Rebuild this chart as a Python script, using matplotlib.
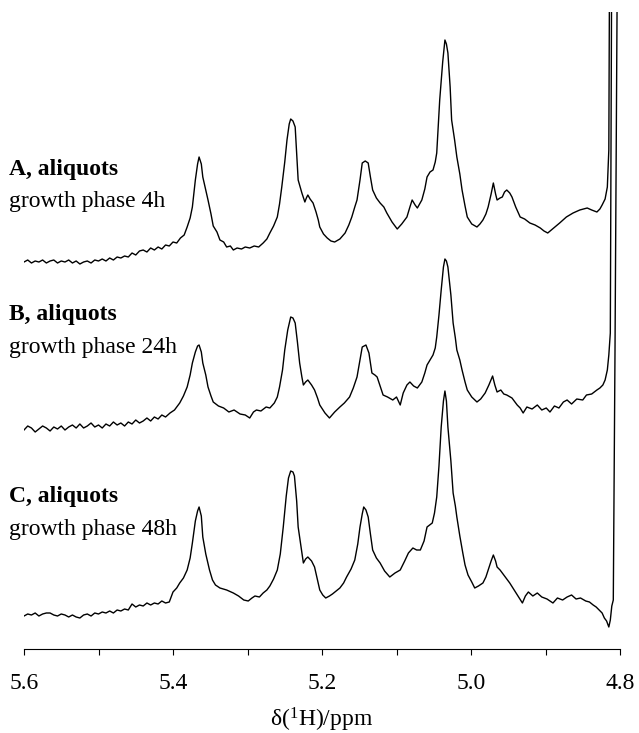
import matplotlib
matplotlib.use("Agg")
import matplotlib.pyplot as plt

plt.rcParams['font.family'] = ['Liberation Serif', 'DejaVu Serif']
plt.rcParams['mathtext.fontset'] = 'custom'
plt.rcParams['mathtext.rm'] = 'Liberation Serif'
plt.rcParams['mathtext.default'] = 'regular'

# (ppm, intensity), intensity relative to each baseline
spec_a = [
    (5.600, 0), (5.595, 2), (5.590, -1), (5.585, 1), (5.580, 0), (5.575, 2), (5.570, -1), (5.565, 1),
    (5.560, 2), (5.555, -1), (5.550, 1), (5.545, 0), (5.540, 2), (5.535, -1), (5.530, 1), (5.525, -2),
    (5.520, 0), (5.515, 1), (5.510, -1), (5.505, 2), (5.500, 1), (5.495, 3), (5.490, 1), (5.485, 4),
    (5.480, 2), (5.475, 5), (5.470, 4), (5.465, 6), (5.460, 5), (5.455, 9), (5.450, 7), (5.445, 11),
    (5.440, 12), (5.435, 10), (5.430, 14), (5.425, 12), (5.420, 15), (5.415, 13), (5.410, 17), (5.405, 16),
    (5.400, 20), (5.395, 19), (5.390, 24), (5.385, 27), (5.381, 35), (5.377, 44), (5.374, 55), (5.370, 82),
    (5.367, 98), (5.365, 105), (5.362, 98), (5.360, 85), (5.356, 72), (5.353, 62), (5.349, 48), (5.346, 36),
    (5.341, 30), (5.337, 22), (5.332, 20), (5.328, 15), (5.323, 16), (5.319, 12), (5.314, 14), (5.308, 13),
    (5.303, 15), (5.297, 14), (5.291, 16), (5.285, 15), (5.279, 19), (5.274, 23), (5.270, 29), (5.265, 36),
    (5.260, 45), (5.257, 58), (5.254, 75), (5.250, 100), (5.247, 122), (5.244, 138), (5.242, 143), (5.239, 141),
    (5.236, 135), (5.232, 82), (5.229, 74), (5.227, 69), (5.223, 60), (5.221, 64), (5.219, 67), (5.216, 63),
    (5.212, 59), (5.208, 50), (5.205, 42), (5.203, 35), (5.198, 28), (5.193, 24), (5.188, 21), (5.183, 20),
    (5.176, 23), (5.169, 29), (5.164, 37), (5.160, 45), (5.156, 55), (5.153, 62), (5.149, 82), (5.146, 99),
    (5.142, 101), (5.138, 99), (5.135, 85), (5.132, 72), (5.127, 64), (5.122, 59), (5.117, 55), (5.113, 49),
    (5.106, 40), (5.099, 33), (5.093, 38), (5.086, 45), (5.082, 55), (5.079, 62), (5.075, 57), (5.072, 54),
    (5.069, 58), (5.066, 62), (5.062, 73), (5.059, 85), (5.055, 90), (5.051, 92), (5.048, 100), (5.046, 109),
    (5.044, 135), (5.042, 162), (5.038, 200), (5.035, 222), (5.033, 218), (5.031, 209), (5.028, 175), (5.026, 142),
    (5.022, 122), (5.019, 105), (5.015, 88), (5.012, 72), (5.008, 56), (5.005, 45), (4.999, 38), (4.992, 35),
    (4.988, 38), (4.984, 42), (4.980, 48), (4.977, 55), (4.973, 68), (4.970, 79), (4.967, 68), (4.965, 62),
    (4.961, 64), (4.958, 65), (4.955, 70), (4.952, 72), (4.948, 69), (4.945, 65), (4.940, 55), (4.934, 45),
    (4.928, 43), (4.921, 39), (4.914, 37), (4.907, 34), (4.902, 31), (4.897, 29), (4.889, 34), (4.881, 39),
    (4.872, 45), (4.863, 49), (4.854, 52), (4.844, 54), (4.838, 52), (4.831, 50), (4.827, 53), (4.824, 57),
    (4.820, 63), (4.817, 75), (4.815, 112), (4.812, 700),
]

spec_b = [
    (5.600, 0), (5.595, 4), (5.590, 2), (5.585, -2), (5.580, 1), (5.575, 4), (5.570, 2), (5.565, -1),
    (5.560, 3), (5.555, 1), (5.550, 4), (5.545, 0), (5.540, 3), (5.535, 5), (5.530, 2), (5.525, 6),
    (5.520, 2), (5.515, 4), (5.510, 7), (5.505, 3), (5.500, 5), (5.495, 2), (5.490, 6), (5.485, 4),
    (5.480, 8), (5.475, 5), (5.470, 7), (5.465, 4), (5.460, 8), (5.455, 6), (5.450, 10), (5.445, 7),
    (5.440, 9), (5.435, 12), (5.430, 9), (5.425, 13), (5.420, 11), (5.415, 15), (5.410, 13), (5.404, 17),
    (5.398, 20), (5.391, 27), (5.386, 34), (5.381, 43), (5.377, 55), (5.374, 67), (5.370, 78), (5.367, 84),
    (5.365, 85), (5.362, 78), (5.360, 67), (5.356, 55), (5.353, 43), (5.349, 34), (5.346, 28), (5.339, 24),
    (5.332, 22), (5.325, 18), (5.318, 20), (5.310, 16), (5.303, 15), (5.297, 12), (5.292, 18), (5.288, 20),
    (5.282, 19), (5.275, 23), (5.270, 22), (5.264, 27), (5.260, 33), (5.257, 43), (5.253, 60), (5.250, 80),
    (5.246, 100), (5.242, 113), (5.239, 112), (5.236, 107), (5.233, 88), (5.230, 67), (5.227, 53), (5.225, 45),
    (5.222, 48), (5.219, 50), (5.214, 45), (5.210, 40), (5.206, 32), (5.203, 25), (5.196, 17), (5.190, 12),
    (5.183, 18), (5.176, 23), (5.170, 27), (5.163, 33), (5.158, 42), (5.153, 53), (5.149, 70), (5.146, 83),
    (5.141, 85), (5.137, 77), (5.133, 57), (5.129, 55), (5.126, 53), (5.122, 44), (5.118, 35), (5.112, 33),
    (5.105, 30), (5.100, 33), (5.095, 25), (5.091, 37), (5.086, 45), (5.082, 48), (5.077, 44), (5.072, 42),
    (5.069, 45), (5.066, 48), (5.062, 57), (5.059, 65), (5.055, 70), (5.051, 75), (5.048, 82), (5.046, 93),
    (5.043, 115), (5.040, 140), (5.037, 163), (5.035, 171), (5.033, 169), (5.031, 163), (5.027, 135), (5.024, 107),
    (5.021, 92), (5.019, 80), (5.015, 70), (5.012, 60), (5.008, 48), (5.005, 40), (4.999, 33), (4.992, 28),
    (4.987, 31), (4.981, 37), (4.976, 45), (4.971, 54), (4.968, 45), (4.965, 38), (4.960, 40), (4.956, 36),
    (4.952, 35), (4.945, 32), (4.938, 25), (4.934, 22), (4.930, 17), (4.925, 23), (4.918, 21), (4.911, 25),
    (4.905, 20), (4.899, 22), (4.894, 18), (4.888, 24), (4.882, 22), (4.876, 28), (4.871, 30), (4.865, 26),
    (4.858, 31), (4.850, 30), (4.845, 35), (4.838, 36), (4.831, 40), (4.827, 42), (4.823, 45), (4.820, 50),
    (4.817, 60), (4.815, 75), (4.813, 97), (4.810, 700),
]

spec_c = [
    (5.600, 0), (5.595, 2), (5.590, 1), (5.585, 3), (5.580, 0), (5.575, 2), (5.570, 3), (5.565, 3),
    (5.560, 1), (5.555, 0), (5.550, 2), (5.545, 1), (5.540, -1), (5.535, 1), (5.530, -1), (5.525, -2),
    (5.520, 1), (5.515, 2), (5.510, 0), (5.505, 3), (5.500, 2), (5.495, 4), (5.490, 3), (5.485, 5),
    (5.480, 3), (5.475, 6), (5.470, 5), (5.465, 7), (5.460, 6), (5.455, 12), (5.450, 9), (5.445, 11),
    (5.440, 10), (5.435, 13), (5.430, 11), (5.425, 13), (5.420, 12), (5.415, 15), (5.410, 13), (5.405, 14),
    (5.400, 24), (5.395, 28), (5.391, 33), (5.386, 38), (5.381, 46), (5.377, 58), (5.374, 73), (5.370, 95),
    (5.367, 105), (5.365, 109), (5.362, 100), (5.360, 79), (5.356, 62), (5.351, 46), (5.347, 36), (5.343, 31),
    (5.337, 28), (5.328, 26), (5.319, 23), (5.312, 20), (5.305, 16), (5.299, 15), (5.294, 18), (5.290, 20),
    (5.284, 19), (5.279, 23), (5.274, 26), (5.270, 30), (5.265, 37), (5.260, 46), (5.256, 62), (5.252, 89),
    (5.248, 120), (5.245, 138), (5.242, 145), (5.239, 144), (5.237, 140), (5.234, 115), (5.232, 89), (5.228, 68),
    (5.225, 53), (5.222, 57), (5.219, 59), (5.214, 55), (5.210, 49), (5.206, 36), (5.203, 26), (5.199, 21),
    (5.195, 18), (5.190, 20), (5.186, 22), (5.181, 25), (5.176, 28), (5.171, 33), (5.167, 39), (5.161, 47),
    (5.156, 56), (5.152, 72), (5.149, 89), (5.146, 102), (5.144, 109), (5.141, 106), (5.138, 99), (5.135, 82),
    (5.132, 66), (5.127, 58), (5.122, 53), (5.116, 45), (5.109, 39), (5.102, 43), (5.095, 46), (5.089, 55),
    (5.084, 63), (5.078, 68), (5.073, 66), (5.068, 66), (5.063, 75), (5.059, 89), (5.052, 93), (5.049, 103),
    (5.046, 119), (5.043, 150), (5.040, 189), (5.037, 215), (5.035, 225), (5.033, 215), (5.031, 189), (5.027, 155),
    (5.024, 123), (5.021, 110), (5.019, 99), (5.015, 80), (5.011, 63), (5.008, 51), (5.004, 41), (4.999, 34),
    (4.995, 28), (4.990, 30), (4.984, 33), (4.980, 39), (4.977, 46), (4.973, 55), (4.970, 61), (4.967, 55),
    (4.965, 49), (4.961, 46), (4.958, 43), (4.953, 38), (4.948, 33), (4.942, 26), (4.936, 19), (4.931, 13),
    (4.927, 20), (4.923, 24), (4.917, 20), (4.911, 23), (4.905, 19), (4.898, 17), (4.890, 13), (4.884, 18),
    (4.877, 16), (4.871, 19), (4.865, 21), (4.859, 17), (4.853, 18), (4.846, 15), (4.841, 14), (4.836, 11),
    (4.832, 9), (4.828, 6), (4.824, 3), (4.821, -2), (4.818, -5), (4.815, -11), (4.813, -4), (4.811, 10),
    (4.809, 16), (4.8067, 266), (4.804, 606), (4.8035, 650),
]

titles = ['A, aliquots', 'B, aliquots', 'C, aliquots']
subtitles = ['growth phase 4h', 'growth phase 24h', 'growth phase 48h']
tick_vals = [5.6, 5.5, 5.4, 5.3, 5.2, 5.1, 5.0, 4.9, 4.8]
tick_labels = ['5.6', '', '5.4', '', '5.2', '', '5.0', '', '4.8']

# vertical stacking of the traces (same units as intensity)
offsets = [387, 219, 33]

fig = plt.figure(figsize=(6.39, 7.33), dpi=100)
ax = fig.add_axes([24 / 639, 84 / 733, 596 / 639, 637 / 733])

for spec, off in zip([spec_a, spec_b, spec_c], offsets):
    x = [p[0] for p in spec]
    y = [p[1] + off for p in spec]
    ax.plot(x, y, color='black', lw=1.0)

ax.set_xlim(5.6, 4.8)
ax.set_ylim(0, 637)
ax.set_xticks(tick_vals)
ax.set_xticklabels(tick_labels)
ax.set_yticks([])
for s in ['left', 'right', 'top']:
    ax.spines[s].set_visible(False)
ax.spines['bottom'].set_linewidth(0.8)
ax.tick_params(axis='x', direction='out', length=4, width=0.8, pad=13, labelsize=17)
ax.set_xlabel('δ($^{1}$H)/ppm', fontsize=17, labelpad=9)

title_y = [175, 320, 502]
sub_y = [207, 353, 535]
for t, s, ty, sy in zip(titles, subtitles, title_y, sub_y):
    fig.text(9 / 639, 1 - ty / 733, t, fontsize=17, fontweight='bold', va='baseline')
    fig.text(9 / 639, 1 - sy / 733, s, fontsize=17, va='baseline')

fig.savefig('out.png', dpi=100)
